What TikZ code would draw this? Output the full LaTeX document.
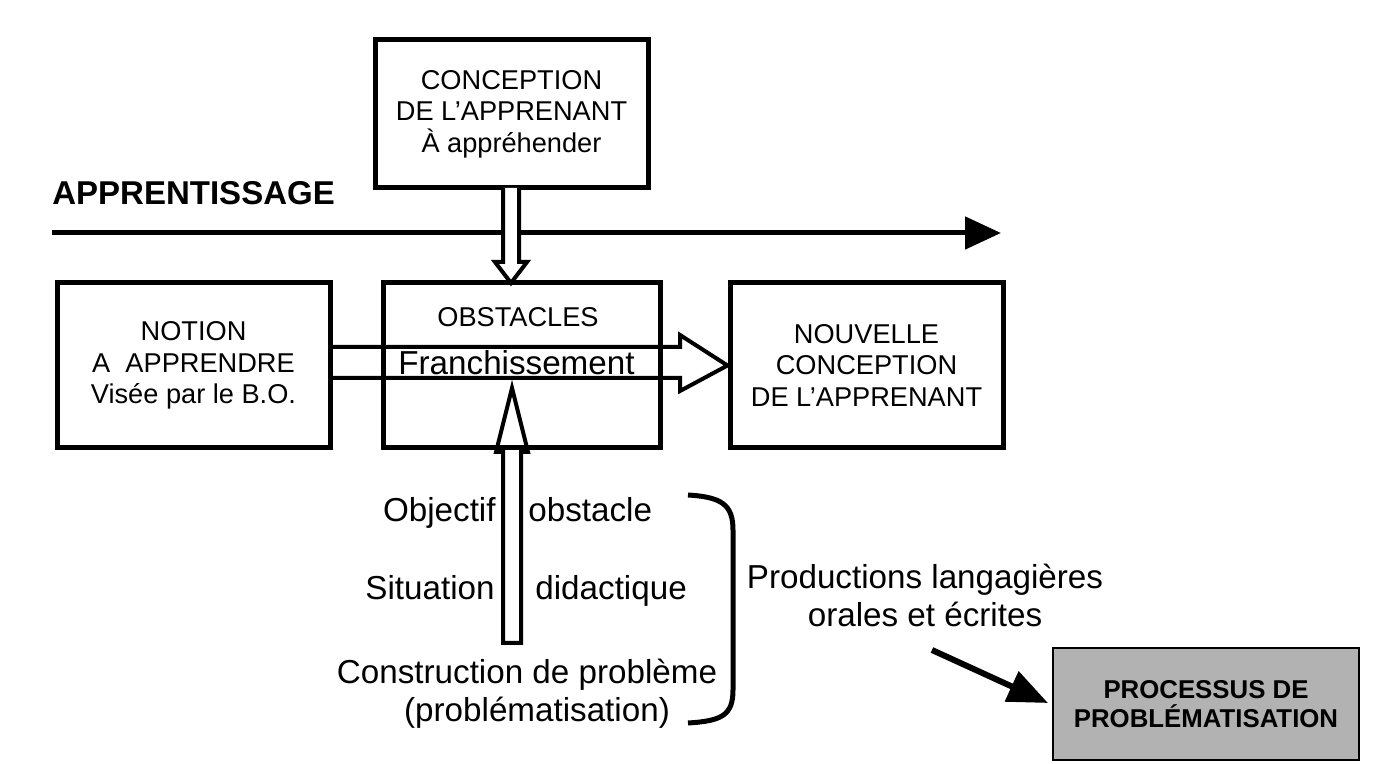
\documentclass[tikz,border=0pt]{standalone}
\usepackage{fontspec}
\setmainfont{Liberation Sans}
\usetikzlibrary{arrows.meta}
\usetikzlibrary{positioning}
\definecolor{boxgray}{rgb}{0.70,0.70,0.70}
\tikzset{
  cadre/.style={draw, line width=2.5pt, minimum width=136.5pt, minimum height=82.5pt,
    align=center, inner sep=0pt, font=\fontsize{13.6}{15.7}\selectfont},
  creux/.style={line width=2pt, line join=miter},
  grand/.style={inner sep=0pt, font=\fontsize{16.6}{19}\selectfont},
}

\begin{document}
\begin{tikzpicture}[x=0.5pt,y=-0.5pt]
\useasboundingbox (0,0) rectangle (1383,764);
% boites
\node[cadre, minimum height=74pt] (conception) at (511.5,114) {CONCEPTION\\DE L’APPRENANT\\À appréhender};
\node[cadre] (notion) at (193.5,365.5) {NOTION\\A\ \ APPRENDRE\\Visée par le B.O.};
\node[cadre, minimum width=138.5pt] (obstacles) at (521.5,365.5) {};
\node[cadre] (nouvelle) at (866.5,365.5) {NOUVELLE\\CONCEPTION\\DE L’APPRENANT};
\node[cadre, fill=boxgray, line width=1pt, minimum width=153pt, minimum height=56pt,
  font=\bfseries\fontsize{12.9}{14.8}\selectfont] (processus) at (1206,704) {PROCESSUS DE\\PROBLÉMATISATION};
% apprentissage
\node[anchor=base west, inner sep=0pt, font=\bfseries\fontsize{16.5}{19}\selectfont] (apprentissage) at (52,205) {APPRENTISSAGE};
\coordinate (debut) at (52,233);
\coordinate (fin) at (1001,233);
\draw[line width=2.5pt, -{Triangle[length=18pt,width=16pt]}] (debut) -- (fin);
% fleches creuses
\draw[creux, fill=white] (503,188) -- (503,262) -- (495,262) -- (511,283) -- (527,262) -- (519,262) -- (519,188);
\draw[creux] (notion.east|-0,347) -- (680,347) -- (680,335) -- (nouvelle.west) -- (680,391) -- (680,378) -- (notion.east|-0,378);
\draw[creux] (503,643) -- (503,452) -- (496,452) -- (512,388) -- (528,452) -- (521,452) -- (521,643) -- cycle;
\node[anchor=base, inner sep=0pt, font=\fontsize{13.6}{15.7}\selectfont] (obst) at (518,327) {OBSTACLES};
\node[grand, anchor=base west] (franch) at (398,375) {Franchissement};
% textes du bas
\node[grand, anchor=base east] (objectif) at (496,522) {Objectif};
\node[grand, anchor=base west] (obstacle) at (528,522) {obstacle};
\node[grand, anchor=base east] (situation) at (495,600) {Situation};
\node[grand, anchor=base west] (didactique) at (535,600) {didactique};
\node[grand, anchor=base] (construction) at (527,683) {Construction de problème};
\node[grand, anchor=base] (problematisation) at (537,722) {(problématisation)};
\draw[line width=2.5pt] (688,495) .. controls (722,497) and (733,505) .. (733,530) -- (733,690)
  .. controls (733,715) and (722,721) .. (688,723);
\node[grand, anchor=base, align=center, font=\fontsize{16.6}{19}\selectfont] (productions) at (925,627) {Productions langagières\\orales et écrites};
\coordinate (depart) at (932,650);
\coordinate (arrivee) at (1048,703);
\draw[line width=3pt, -{Triangle[length=20pt,width=16pt]}] (depart) -- (arrivee);
\end{tikzpicture}
\end{document}
